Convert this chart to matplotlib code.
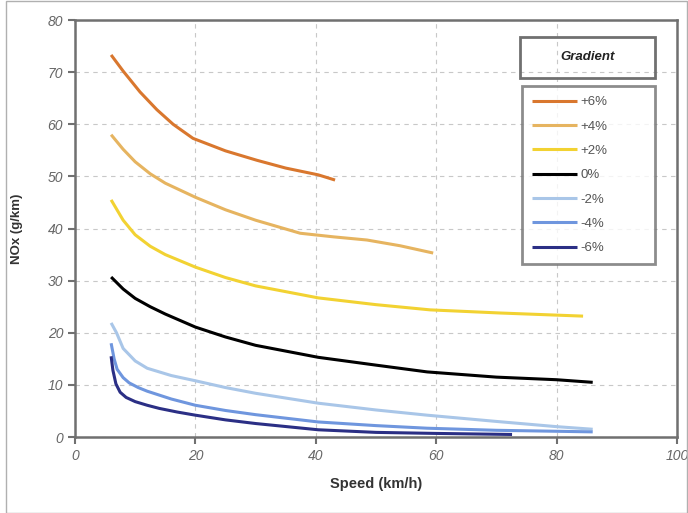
import matplotlib.pyplot as plt
from matplotlib.patches import Rectangle

plt.rcParams["font.family"] = ["Liberation Sans", "DejaVu Sans"]

# values (speed km/h, NOx g/km)
speed_p6 = [6, 8, 10.8, 13.6, 16.3, 19.6, 25, 30.2, 35, 40.4, 43.2]
nox_p6 = [73.3, 70.2, 66.2, 62.8, 60.0, 57.3, 54.9, 53.1, 51.6, 50.3, 49.3]

speed_p4 = [6, 8, 10, 12.5, 15, 20, 25, 30, 37.4, 43, 48.5, 54, 59.5]
nox_p4 = [58.0, 55.2, 52.8, 50.5, 48.7, 46.0, 43.6, 41.6, 39.1, 38.4, 37.8, 36.7, 35.3]

speed_p2 = [6, 8, 10, 12.5, 15, 20, 25, 30, 40.4, 50, 59, 70.6, 84.4]
nox_p2 = [45.5, 41.6, 38.8, 36.6, 35.0, 32.6, 30.6, 29.0, 26.7, 25.4, 24.4, 23.8, 23.2]

speed_0 = [6, 8, 10, 12.5, 15, 20, 25, 30, 40.4, 50, 58.5, 70, 80, 86]
nox_0 = [30.7, 28.4, 26.6, 25.0, 23.6, 21.1, 19.2, 17.6, 15.3, 13.8, 12.5, 11.5, 11.0, 10.5]

speed_m2 = [6, 6.9, 8, 10, 12, 16, 20, 25, 30, 40.4, 50, 58.5, 70, 80, 86]
nox_m2 = [21.9, 20.0, 17.0, 14.6, 13.2, 11.8, 10.8, 9.5, 8.4, 6.5, 5.2, 4.2, 3.0, 2.0, 1.5]

speed_m4 = [6, 6.5, 7, 8, 9, 10.5, 12, 16, 20, 25, 30, 40.4, 50, 58.5, 70, 86]
nox_m4 = [18.0, 15.0, 13.0, 11.4, 10.4, 9.5, 8.8, 7.3, 6.1, 5.1, 4.3, 2.9, 2.2, 1.7, 1.3, 1.0]

speed_m6 = [6, 6.3, 6.8, 7.5, 8.5, 10, 12, 14, 17, 20, 25, 30, 40.4, 50, 60, 72.6]
nox_m6 = [15.5, 12.8, 10.2, 8.6, 7.6, 6.8, 6.1, 5.5, 4.8, 4.2, 3.3, 2.6, 1.4, 0.9, 0.7, 0.5]

labels = ["+6%", "+4%", "+2%", "0%", "-2%", "-4%", "-6%"]
colors = ["#d9772e", "#e6b460", "#f2d232", "#000000", "#a9c6e8", "#6f96de", "#2b2f85"]
series = [
    (speed_p6, nox_p6), (speed_p4, nox_p4), (speed_p2, nox_p2), (speed_0, nox_0),
    (speed_m2, nox_m2), (speed_m4, nox_m4), (speed_m6, nox_m6),
]

fig = plt.figure(figsize=(6.88, 5.13), dpi=100)
ax = fig.add_axes([0.109, 0.148, 0.875, 0.813])

lines = []
for (x, y), lab, c in zip(series, labels, colors):
    ln, = ax.plot(x, y, color=c, lw=2.2, label=lab, solid_capstyle="butt",
                  solid_joinstyle="round")
    lines.append(ln)

ax.set_xlim(0, 100)
ax.set_ylim(0, 80)
ax.set_xticks(range(0, 101, 20))
ax.set_yticks(range(0, 81, 10))
ax.grid(True, color="#c8c8c8", ls=(0, (4, 4)), lw=0.8)
for s in ax.spines.values():
    s.set_color("#707070")
    s.set_linewidth(1.8)
ax.tick_params(length=5, width=1.5, color="#707070", labelsize=10, labelcolor="#666666")
for t in ax.get_xticklabels() + ax.get_yticklabels():
    t.set_fontstyle("italic")

ax.set_xlabel("Speed (km/h)", fontsize=10.5, fontweight="bold", color="#333333", labelpad=10)
ax.set_ylabel("NOx (g/km)", fontsize=9.5, fontweight="bold", color="#333333", labelpad=18)

leg = ax.legend(handles=lines, loc="upper left", bbox_to_anchor=(0.7425, 0.405, 0.221, 0.4367),
                mode="expand", frameon=True, fancybox=False, fontsize=9.5,
                handlelength=3.4, handletextpad=0.3, labelspacing=0.92,
                borderpad=0.75, borderaxespad=0, labelcolor="#555555")
leg.get_frame().set_edgecolor("#707070")
leg.get_frame().set_linewidth(2)

# separate title box above the legend
fig.patches.append(Rectangle((0.756, 0.848), 0.196, 0.08, transform=fig.transFigure,
                             fill=False, ec="#707070", lw=2))
fig.text(0.854, 0.889, "Gradient", ha="center", va="center", fontsize=9.5,
         fontweight="bold", fontstyle="italic", color="#222222")

fig.patches.append(Rectangle((0.008, 0.0), 0.99, 0.999, transform=fig.transFigure,
                             fill=False, ec="#b0b0b0", lw=1))

fig.savefig("out.png", dpi=100)
